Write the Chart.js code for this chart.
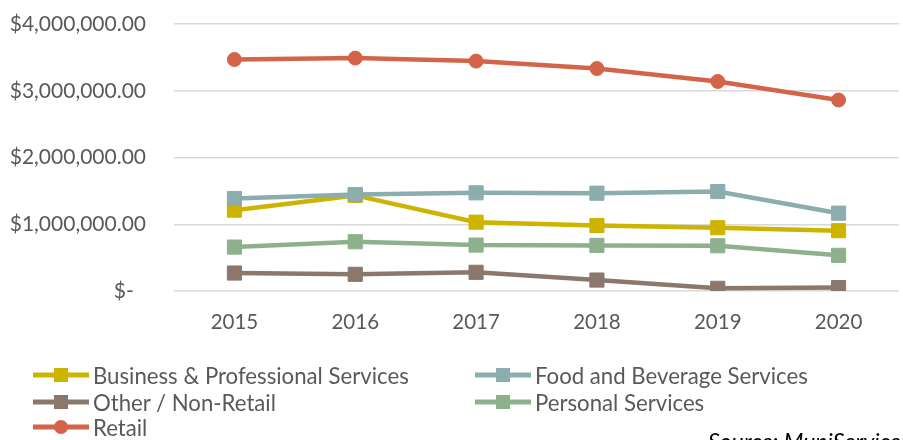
<!DOCTYPE html>
<html>
<head>
<meta charset="utf-8">
<script src="https://cdn.jsdelivr.net/npm/chart.js@4/dist/chart.umd.min.js"></script>
<style>
  html, body { margin: 0; padding: 0; background: #fff; overflow: hidden; }
  #wrap { position: relative; width: 903px; height: 440px; overflow: hidden; }
  #c { position: absolute; left: 0; top: 0; }
  .leg { position: absolute; display: flex; align-items: center; font-family: Lato, sans-serif; font-size: 22.2px; color: #595959; white-space: nowrap; height: 26px; }
  .leg svg { display: block; margin-right: 4px; }
  #source { position: absolute; left: 708px; top: 427px; font-family: Lato, sans-serif; font-style: italic; font-size: 23px; color: #000; white-space: nowrap; }
</style>
</head>
<body>
<div id="wrap">
  <canvas id="c" width="903" height="440"></canvas>
  <div id="legend"></div>
  <div id="source">Source: MuniServices</div>
</div>
<script>
const categories = ['2015', '2016', '2017', '2018', '2019', '2020'];
const seriesNames = ['Business & Professional Services', 'Food and Beverage Services', 'Other / Non-Retail', 'Personal Services', 'Retail'];
const businessValues = [1211000, 1432000, 1031000, 982000, 948000, 903000];
const foodValues     = [1386000, 1445000, 1471000, 1465000, 1490000, 1166000];
const otherValues    = [269000, 250000, 280000, 164000, 40000, 51000];
const personalValues = [658000, 738000, 688000, 683000, 678000, 534000];
const retailValues   = [3468000, 3489000, 3444000, 3333000, 3139000, 2861000];
const yTickValues = [0, 1000000, 2000000, 3000000, 4000000];
const yTickLabels = ['$-\u2007', '$1,000,000.00', '$2,000,000.00', '$3,000,000.00', '$4,000,000.00'];

const colors = ['#CDB400', '#8BADAD', '#8B786D', '#8DB18D', '#D3644A'];
const markers = ['rect', 'rect', 'rect', 'rect', 'circle'];
const valuesList = [businessValues, foodValues, otherValues, personalValues, retailValues];

const datasets = valuesList.map((vals, i) => ({
  label: seriesNames[i],
  data: vals,
  borderColor: colors[i],
  backgroundColor: colors[i],
  borderWidth: 4.5,
  pointStyle: markers[i],
  pointRadius: markers[i] === 'rect' ? 10 : 7,
  pointBorderWidth: 1,
  pointBorderColor: colors[i],
  pointBackgroundColor: colors[i],
  tension: 0,
  order: valuesList.length - i
}));

new Chart(document.getElementById('c'), {
  type: 'line',
  data: { labels: categories, datasets },
  options: {
    responsive: false,
    animation: false,
    devicePixelRatio: 1,
    layout: { autoPadding: false, padding: { top: 24, right: 4, bottom: 0, left: 0 } },
    plugins: { legend: { display: false }, tooltip: { enabled: false } },
    scales: {
      x: {
        offset: true,
        grid: { display: false, drawTicks: false },
        border: { display: false },
        ticks: { color: '#595959', font: { family: 'Lato', size: 20.5 }, padding: 19, maxRotation: 0 },
        afterFit: (s) => { s.height = 149; s.paddingLeft = 0; s.paddingRight = 0; }
      },
      y: {
        min: 0, max: 4000000,
        afterBuildTicks: (s) => { s.ticks = yTickValues.map(v => ({ value: v })); },
        grid: { color: '#d9d9d9', lineWidth: 1.5, drawTicks: false },
        border: { display: false },
        ticks: {
          color: '#595959', font: { family: 'Lato', size: 21 }, padding: 28,
          callback: (v) => yTickLabels[yTickValues.indexOf(v)]
        },
        afterFit: (s) => { s.width = 174; s.paddingTop = 0; s.paddingBottom = 0; }
      }
    }
  }
});

// HTML legend built from the datasets
const legendPos = [
  { left: 33, top: 362 }, { left: 475, top: 362 },
  { left: 33, top: 389 }, { left: 475, top: 389 },
  { left: 33, top: 414 }
];
const legend = document.getElementById('legend');
seriesNames.forEach((name, i) => {
  const d = document.createElement('div');
  d.className = 'leg';
  d.style.left = legendPos[i].left + 'px';
  d.style.top = legendPos[i].top + 'px';
  const marker = markers[i] === 'rect'
    ? `<rect x="21" y="6" width="14" height="14" fill="${colors[i]}"/>`
    : `<circle cx="28" cy="13" r="7" fill="${colors[i]}"/>`;
  d.innerHTML = `<svg width="56" height="26"><line x1="0" y1="13" x2="56" y2="13" stroke="${colors[i]}" stroke-width="5"/>${marker}</svg><span></span>`;
  d.querySelector('span').textContent = name;
  legend.appendChild(d);
});
</script>
</body>
</html>
